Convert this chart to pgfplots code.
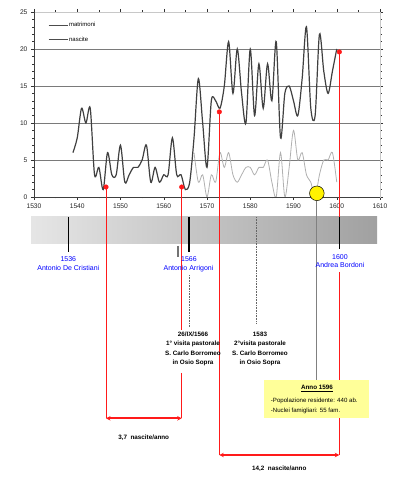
\documentclass[border=0pt]{standalone}
\usepackage{fontspec}
\setmainfont{Liberation Sans}
\usepackage{pgfplots}
\pgfplotsset{compat=1.18}
\usetikzlibrary{arrows.meta}
\definecolor{darkline}{HTML}{404040}
\definecolor{lightline}{HTML}{B0B0B0}
\definecolor{gridc}{HTML}{7A7A7A}
\definecolor{framec}{HTML}{C8C8C8}
\definecolor{boxyel}{HTML}{FFFF99}
\definecolor{annred}{HTML}{FF1A1A}
\begin{document}
\begin{tikzpicture}
\useasboundingbox (0,0) rectangle (400pt,480pt);
\begin{axis}[
  at={(34pt,283pt)}, anchor=south west,
  scale only axis, width=346pt, height=185pt,
  xmin=1530, xmax=1610, ymin=0, ymax=25,
  xtick={1530,1540,...,1610}, ytick={0,5,...,25},
  minor x tick num=1, minor y tick num=4,
  tick align=outside,
  major tick length=3pt, minor tick length=1.5pt,
  tick style={black!80, line width=0.5pt},
  x tick label style={/pgf/number format/1000 sep={}},
  /pgf/number format/assume math mode=true,
  tick label style={font=\fontsize{6.7}{8}\selectfont, text=black!85},
  ymajorgrids, grid style={gridc, line width=0.7pt},
  axis line style={framec, line width=0.6pt},
  clip=false,
  legend style={at={(0.04,0.95)}, anchor=north west, draw=none, fill=none,
    font=\fontsize{6}{7}\selectfont, row sep=6.5pt, inner sep=0pt, nodes={inner sep=1pt}},
  legend cell align=left,
  legend image code/.code={\draw[#1] (0pt,0pt) -- (19pt,0pt);},
]
\addlegendimage{black!70, line width=0.45pt}
\addlegendentry{matrimoni}
\addlegendimage{black!70, line width=1.1pt}
\addlegendentry{nascite}

% matrimoni
\addplot[lightline, line width=0.8pt, smooth, tension=0.5, forget plot] coordinates {
(1567,6) (1568,2) (1569,3) (1570,0) (1571,3) (1572,2) (1573,6) (1574,4) (1575,6)
(1576,3) (1577,2) (1578,3) (1579,4) (1580,4) (1581,3) (1582,4) (1583,4) (1584,5)
(1585,2) (1586,0) (1587,6) (1588,0) (1589,4) (1590,9) (1591,5) (1592,6) (1593,3)
(1594,2) (1595,0) (1596,3) (1597,5) (1598,5) (1599,6) (1600,2)
};
% nascite
\addplot[darkline, line width=1.2pt, smooth, tension=0.5, forget plot] coordinates {
(1539,6) (1540,8) (1541,12) (1542,10) (1543,12) (1544,3) (1545,4) (1546,1) (1547,6)
(1548,3) (1549,3) (1550,7) (1551,2) (1552,3) (1553,4) (1554,4) (1555,5) (1556,7)
(1557,2) (1558,4) (1559,2) (1560,3) (1561,3) (1562,8) (1563,3) (1564,3) (1565,1)
(1566,2) (1567,8) (1568,16) (1569,10) (1570,4) (1571,13) (1572,13) (1573,12) (1574,15)
(1575,21) (1576,14) (1577,20) (1578,14) (1579,10) (1580,20) (1581,11) (1582,18) (1583,12)
(1584,18) (1585,13) (1586,21) (1587,8) (1588,14) (1589,15) (1590,13) (1591,11) (1592,16)
(1593,23) (1594,12) (1595,11) (1596,22) (1597,17) (1598,14) (1599,17) (1600,20)
};
\draw[black!75, line width=0.7pt] (rel axis cs:0,1) -- (rel axis cs:0,0) -- (rel axis cs:1,0);
\addplot[only marks, mark=*, mark size=2.3pt, annred, forget plot] coordinates {
(1546.65,1.35) (1564.15,1.35) (1572.85,11.5) (1600.6,19.6)};
\addplot[only marks, mark=*, mark size=7.3pt, mark options={fill=yellow, draw=black, line width=0.5pt}, forget plot] coordinates {(1595.4,0.5)};
\end{axis}

\begin{scope}[x=1pt, y=-1pt, shift={(0pt,480pt)}]
\shade[left color=black!10, right color=black!37] (31,217) rectangle (377,244);
% red vertical lines
\draw[annred, line width=0.8pt] (106,188) -- (106,418);
\draw[annred, line width=0.8pt] (181.7,188) -- (181.7,330);
\draw[annred, line width=0.8pt] (181.7,373) -- (181.7,418);
\draw[annred, line width=0.8pt] (219.3,113) -- (219.3,455);
\draw[annred, line width=0.8pt] (339.3,53) -- (339.3,217);
\draw[annred, line width=0.8pt] (339.3,272) -- (339.3,455);
% gray line from yellow circle
\draw[black!50, line width=1pt] (316.7,200.8) -- (316.7,380);
% timeline marks
\draw[black, line width=1.6pt] (68.3,217) -- (68.3,252);
\draw[black, line width=1.6pt] (189,217) -- (189,252);
\draw[black, line width=1.6pt] (339.5,217) -- (339.5,249);
\draw[black!55, line width=1.2pt] (178,246) -- (178,257);
\draw[black!60, line width=0.6pt, dash pattern=on 0.8pt off 0.8pt] (189,275) -- (189,327);
\draw[black!60, line width=0.6pt, dash pattern=on 0.8pt off 0.8pt] (256.7,217) -- (256.7,323);
% blue labels
\begin{scope}[every node/.style={text=blue, font=\fontsize{7}{8}\selectfont, anchor=base, inner sep=0pt}]
\node at (68.3,261.8) {1536};
\node at (68.3,270.8) {Antonio De Cristiani};
\node at (189,261.8) {1566};
\node at (188.5,270.8) {Antonio Arrigoni};
\node at (340,259.3) {1600};
\node at (340,267.6) {Andrea Bordoni};
\end{scope}
% visit annotations
\begin{scope}[every node/.style={font=\fontsize{6.3}{7.5}\selectfont\bfseries, anchor=base, inner sep=0pt}]
\node at (193,336.6) {26/IX/1566};
\node at (193,346.0) {1° visita pastorale};
\node at (193,355.3) {S. Carlo Borromeo};
\node at (193,364.6) {in Osio Sopra};
\node at (260,336.6) {1583};
\node at (260,346.0) {2°visita pastorale};
\node at (260,355.3) {S. Carlo Borromeo};
\node at (260,364.6) {in Osio Sopra};
\node at (143.7,439.6) {3,7~~nascite/anno};
\node at (279.3,470.6) {14,2~~nascite/anno};
\end{scope}
% yellow box
\fill[boxyel] (264,380) rectangle (369.3,417.7);
\node[font=\fontsize{6.3}{7.5}\selectfont\bfseries, anchor=base, inner sep=0pt] at (317,390) {\underline{Anno 1596}};
\node[font=\fontsize{6.1}{7.3}\selectfont, anchor=base west, inner sep=0pt] at (270.7,402.9) {-Popolazione residente: 440 ab.};
\node[font=\fontsize{6.1}{7.3}\selectfont, anchor=base west, inner sep=0pt] at (270.7,412.2) {-Nuclei famigliari: 55 fam.};
% arrows
\draw[annred, line width=1.8pt, {Stealth[length=4.5pt,width=4.5pt]}-{Stealth[length=4.5pt,width=4.5pt]}] (106,418.3) -- (181.7,418.3);
\draw[annred, line width=1.8pt, {Stealth[length=4.5pt,width=4.5pt]}-{Stealth[length=4.5pt,width=4.5pt]}] (219.3,455) -- (339.3,455);
\end{scope}
\end{tikzpicture}
\end{document}
